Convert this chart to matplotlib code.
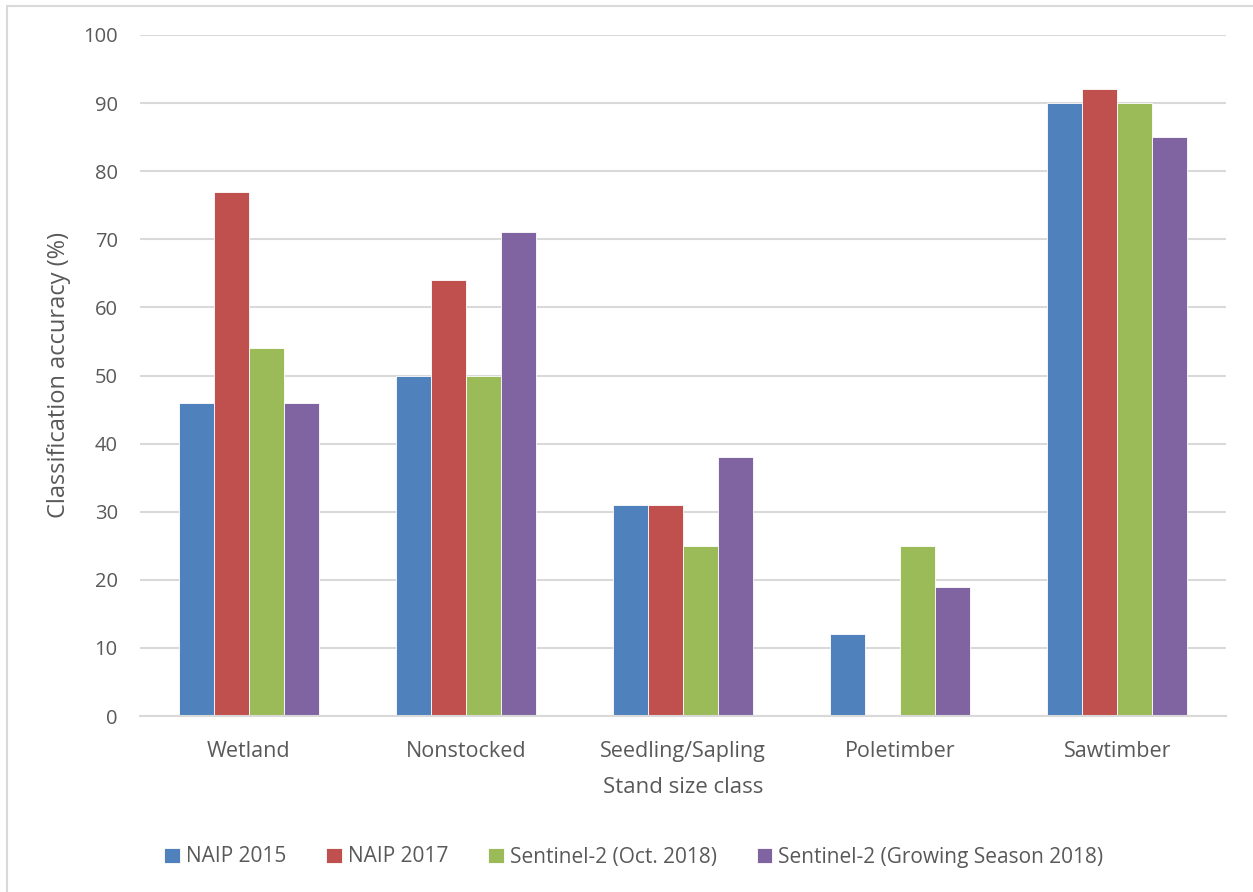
import numpy as np
import matplotlib
matplotlib.use('Agg')
import matplotlib.pyplot as plt
from matplotlib.patches import Rectangle

# data
categories = ['Wetland', 'Nonstocked', 'Seedling/Sapling', 'Poletimber', 'Sawtimber']
series_names = ['NAIP 2015', 'NAIP 2017', 'Sentinel-2 (Oct. 2018)', 'Sentinel-2 (Growing Season 2018)']
naip_2015 = [46, 50, 31, 12, 90]
naip_2017 = [77, 64, 31, 0, 92]
s2_oct = [54, 50, 25, 25, 90]
s2_growing = [46, 71, 38, 19, 85]
yticks = [0, 10, 20, 30, 40, 50, 60, 70, 80, 90, 100]

colors = ['#4f81bd', '#c0504d', '#9bbb59', '#8064a2']
txt = '#595959'
grid = '#d9d9d9'

plt.rcParams['font.family'] = ['Open Sans', 'DejaVu Sans']

fig = plt.figure(figsize=(12.53, 8.92), dpi=100)
# chart area border (top and left visible)
fig.patches.append(Rectangle((7 / 1253, -0.1), 1.2, 1.1 - 6 / 892, transform=fig.transFigure,
                             fill=False, edgecolor='#d9d9d9', lw=1.5))

ax = fig.add_axes([140 / 1253, 1 - 716 / 892, 1086 / 1253, 681 / 892])

x = np.arange(len(categories))
w = 0.161
all_series = [naip_2015, naip_2017, s2_oct, s2_growing]
for i, (vals, name) in enumerate(zip(all_series, series_names)):
    ax.bar(x + (i - 1.5) * w, vals, width=w, color=colors[i], label=name,
           edgecolor='white', linewidth=0.6, zorder=3)

ax.set_xlim(-0.5, len(categories) - 0.5)
ax.set_ylim(0, 100)
ax.set_yticks(yticks)
ax.set_xticks(x)
ax.set_xticklabels(categories)
ax.yaxis.grid(True, color=grid, linewidth=1.5, zorder=0)
ax.set_axisbelow(True)
for s in ['top', 'right', 'left']:
    ax.spines[s].set_visible(False)
ax.spines['bottom'].set_color(grid)
ax.spines['bottom'].set_linewidth(1.5)
ax.spines['bottom'].set_zorder(4)
ax.tick_params(axis='y', length=0, labelsize=14.5, colors=txt, pad=16)
ax.tick_params(axis='x', length=0, labelsize=15.5, colors=txt, pad=18)

ax.set_ylabel('Classification accuracy (%)', fontsize=17, color=txt, labelpad=9)
ax.set_xlabel('Stand size class', fontsize=16, color=txt, labelpad=11)

handles, labels = ax.get_legend_handles_labels()
leg = fig.legend(handles, labels, loc='center', bbox_to_anchor=(634 / 1253, 1 - 857 / 892),
                 ncol=4, frameon=False, handlelength=0.75, handleheight=0.75,
                 handletextpad=0.3, columnspacing=1.9, prop={'size': 15})
for t in leg.get_texts():
    t.set_color(txt)

fig.savefig('out.png', dpi=100)
